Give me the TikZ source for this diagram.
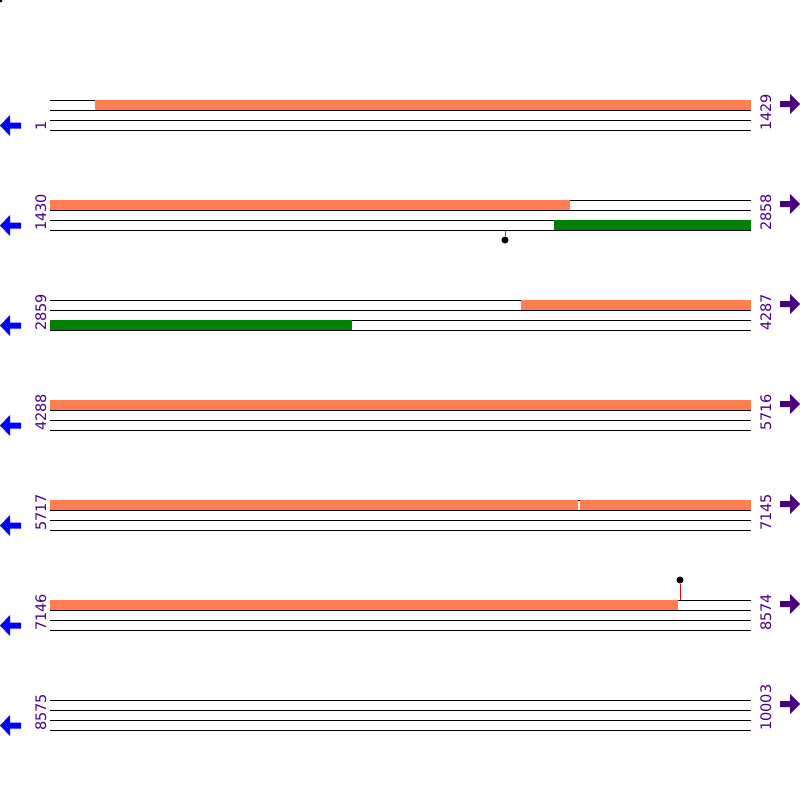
\documentclass[tikz,border=0pt]{standalone}
\usepackage{fontspec}
\setmainfont{DejaVu Sans}
\definecolor{coral}{HTML}{FF7F50}
\definecolor{dgreen}{HTML}{008000}
\definecolor{indig}{HTML}{4B0082}
\begin{document}
\begin{tikzpicture}[x=1pt,y=-1pt,
  strand/.style={black,line width=1pt},
  orange/.style={fill=coral,draw=none},
  greenb/.style={fill=dgreen,draw=none},
  lbl/.style={rotate=90,inner sep=0pt,text=indig,font=\fontsize{14.5}{15}\selectfont},
  larrow/.style={fill=blue,draw=none},
  rarrow/.style={fill=indig,draw=none},
  stem/.style={red,line width=1pt},
  knob/.style={circle,fill=black,inner sep=0pt,minimum size=7pt}]
\useasboundingbox (0,0) rectangle (800,800);
\begin{scope}
\clip (0,0) rectangle (800,800);
\fill (0,0) circle (2.5);
\end{scope}
% rows
\foreach \r/\a/\b [count=\i] in {100/1/1429,200/1430/2858,300/2859/4287,400/4288/5716,500/5717/7145,600/7146/8574,700/8575/10003}{
  % features drawn first
  \foreach \d in {0,10,20,30}{
    \draw[strand] (50,\r+\d) -- (751,\r+\d);
  }
  \node[lbl,anchor=base west] (L\i) at (46,\r+31) {\a};
  \node[lbl,anchor=base west] (R\i) at (771,\r+31) {\b};
  \fill[larrow] (0,\r+25.5) -- (10,\r+15) -- (10,\r+22.5) -- (21,\r+22.5) -- (21,\r+28.5) -- (10,\r+28.5) -- (10,\r+36) -- cycle;
  \fill[rarrow] (800,\r+4) -- (790,\r-6) -- (790,\r+1) -- (780,\r+1) -- (780,\r+7) -- (790,\r+7) -- (790,\r+14) -- cycle;
}
% features
\fill[orange] (95,100) rectangle (751,110);
\fill[orange] (50,200) rectangle (570,210);
\fill[greenb] (554,220) rectangle (751,230);
\fill[orange] (521,300) rectangle (751,310);
\fill[greenb] (50,320) rectangle (352,330);
\fill[orange] (50,400) rectangle (751,410);
\fill[orange] (50,500) rectangle (578,510);
\fill[orange] (580,500) rectangle (751,510);
\fill[orange] (50,600) rectangle (678,610);
% lollipops
\coordinate (s1) at (505,230);
\node[knob] (k1) at (505,240) {};
\draw[stem] (s1) -- (k1.north);
\coordinate (s2) at (680,600);
\node[knob] (k2) at (680,580) {};
\draw[stem] (s2) -- (k2.south);
\end{tikzpicture}
\end{document}
